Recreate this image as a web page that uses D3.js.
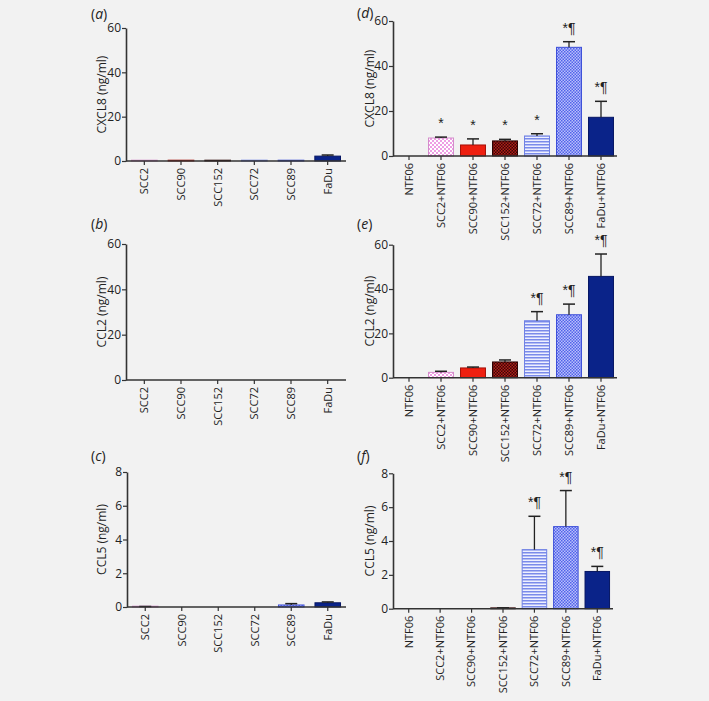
<!DOCTYPE html>
<html><head><meta charset="utf-8">
<script src="https://cdn.jsdelivr.net/npm/d3@7/dist/d3.min.js"></script>
<style>
html,body{margin:0;padding:0;background:#f2f2f2;}
svg{display:block;}
text{font-family:"Open Sans",sans-serif;fill:#222;}
</style></head>
<body>
<script>
// ---- data ----
const monoCats = ["SCC2","SCC90","SCC152","SCC72","SCC89","FaDu"];
const coCats = ["NTF06","SCC2+NTF06","SCC90+NTF06","SCC152+NTF06","SCC72+NTF06","SCC89+NTF06","FaDu+NTF06"];

const cxcl8Mono = [0.05, 0.2, 0.05, 0.2, 0.05, 2.2];
const cxcl8MonoErr = [0, 0, 0, 0, 0, 0.5];
const ccl2Mono = [0, 0, 0, 0, 0, 0];
const ccl2MonoErr = [0, 0, 0, 0, 0, 0];
const ccl5Mono = [0.02, 0, 0, 0, 0.12, 0.25];
const ccl5MonoErr = [0.01, 0, 0, 0, 0.08, 0.05];

const cxcl8Co = [0, 8.0, 4.9, 6.7, 8.9, 48.3, 17.2];
const cxcl8CoErr = [0, 0.4, 2.7, 0.7, 1.0, 2.5, 7.1];
const cxcl8Sig = ["", "*", "*", "*", "*", "*¶", "*¶"];
const ccl2Co = [0, 2.4, 4.4, 7.1, 25.7, 28.4, 45.7];
const ccl2CoErr = [0, 0.5, 0.4, 0.9, 4.1, 4.8, 10.1];
const ccl2Sig = ["", "", "", "", "*¶", "*¶", "*¶"];
const ccl5Co = [0, 0, 0, 0.03, 3.49, 4.85, 2.2];
const ccl5CoErr = [0, 0, 0, 0.02, 1.97, 2.13, 0.3];
const ccl5Sig = ["", "", "", "", "*¶", "*¶", "*¶"];

const ticks60 = [0, 20, 40, 60];
const ticks8 = [0, 2, 4, 6, 8];

// ---- drawing ----
const svg = d3.select("body").append("svg").attr("width", 709).attr("height", 701);
const defs = svg.append("defs");

function checkPattern(id, bg, fg, s) {
  const p = defs.append("pattern").attr("id", id).attr("patternUnits", "userSpaceOnUse")
    .attr("width", 2 * s).attr("height", 2 * s);
  p.append("rect").attr("width", 2 * s).attr("height", 2 * s).attr("fill", bg);
  p.append("rect").attr("width", s).attr("height", s).attr("fill", fg);
  p.append("rect").attr("x", s).attr("y", s).attr("width", s).attr("height", s).attr("fill", fg);
}
checkPattern("pinkchk", "#ffffff", "#ee9ee4", 2);
checkPattern("marchk", "#3e0505", "#b0201a", 1.5);
checkPattern("bluechk", "#b8c0fb", "#5262ea", 1.5);
(function () {
  const p = defs.append("pattern").attr("id", "stripe").attr("patternUnits", "userSpaceOnUse")
    .attr("width", 4).attr("height", 3);
  p.append("rect").attr("width", 4).attr("height", 3).attr("fill", "#eef0ff");
  p.append("rect").attr("y", 0).attr("width", 4).attr("height", 1.5).attr("fill", "#7a8bea");
})();

const styles = [
  {fill: "url(#pinkchk)", stroke: "#d48ccb"},
  {fill: "#ee1f10", stroke: "#a51008"},
  {fill: "url(#marchk)", stroke: "#2a0303"},
  {fill: "url(#stripe)", stroke: "#6f80e4"},
  {fill: "url(#bluechk)", stroke: "#3d4fd8"},
  {fill: "#0a2389", stroke: "#061663"}
];

function panel(cfg) {
  const g = svg.append("g");
  const x = d3.scaleBand().domain(cfg.cats).range([cfg.x0, cfg.x1]).paddingInner(cfg.pad).paddingOuter(cfg.pad / 2);
  const y = d3.scaleLinear().domain([0, cfg.max]).range([cfg.yb, cfg.yt]);

  cfg.vals.forEach((v, i) => {
    const st = styles[cfg.styleIdx[i]];
    if (!st || v <= 0) return;
    const h = Math.max(y(0) - y(v), 0.8);
    g.append("rect").attr("x", x(cfg.cats[i])).attr("y", y(0) - h)
      .attr("width", x.bandwidth()).attr("height", h)
      .attr("fill", st.fill).attr("stroke", st.stroke).attr("stroke-width", 1);
  });
  cfg.vals.forEach((v, i) => {
    const e = cfg.errs[i];
    if (!e) return;
    const cx = x(cfg.cats[i]) + x.bandwidth() / 2;
    const yt = y(v + e);
    g.append("line").attr("x1", cx).attr("x2", cx).attr("y1", y(v)).attr("y2", yt)
      .attr("stroke", "#222").attr("stroke-width", 1.3);
    g.append("line").attr("x1", cx - 6).attr("x2", cx + 6).attr("y1", yt).attr("y2", yt)
      .attr("stroke", "#222").attr("stroke-width", 1.5);
  });
  if (cfg.sig) cfg.sig.forEach((s, i) => {
    if (!s) return;
    const cx = x(cfg.cats[i]) + x.bandwidth() / 2;
    g.append("text").attr("x", cx).attr("y", y(cfg.vals[i] + cfg.errs[i]) - 9)
      .attr("text-anchor", "middle").attr("font-size", 14)
      .style("font-family", "'Liberation Sans', 'DejaVu Sans', sans-serif").text(s);
  });

  const ya = g.append("g").attr("transform", `translate(${cfg.x0},0)`)
    .call(d3.axisLeft(y).tickValues(cfg.ticks).tickSize(4).tickPadding(1).tickSizeOuter(0));
  const xa = g.append("g").attr("transform", `translate(0,${cfg.yb})`)
    .call(d3.axisBottom(x).tickSize(4).tickSizeOuter(0).tickPadding(3));
  [ya, xa].forEach(a => {
    a.select(".domain").attr("stroke", "#333").attr("stroke-width", 1.6);
    a.selectAll(".tick line").attr("stroke", "#333").attr("stroke-width", 1.2);
    a.selectAll("text").attr("font-family", "Open Sans").attr("fill", "#222");
  });
  ya.selectAll("text").attr("font-size", 12);
  xa.select(".domain").attr("d", `M${cfg.x0},0H${cfg.x1}`);
  xa.selectAll(".tick text").attr("font-size", 11).attr("transform", "rotate(-90)")
    .attr("text-anchor", "end").attr("x", -7).attr("y", 0).attr("dy", "0.35em");

  g.append("text").attr("transform", `translate(${cfg.labX},${(cfg.yt + cfg.yb) / 2}) rotate(-90)`)
    .attr("text-anchor", "middle").attr("font-size", 12).text(cfg.ylabel);
  const t = g.append("text").attr("x", cfg.lx).attr("y", cfg.ly).attr("font-size", 14);
  t.append("tspan").text("(");
  t.append("tspan").attr("font-style", "italic").text(cfg.letter);
  t.append("tspan").text(")");
}

const monoStyle = [0, 1, 2, 3, 4, 5];
const coStyle = [-1, 0, 1, 2, 3, 4, 5];

panel({cats: monoCats, vals: cxcl8Mono, errs: cxcl8MonoErr, styleIdx: monoStyle, max: 60, ticks: ticks60,
  x0: 126, x1: 346, pad: 0.3, yt: 28, yb: 161, labX: 106, ylabel: "CXCL8 (ng/ml)", letter: "a", lx: 91, ly: 19});
panel({cats: monoCats, vals: ccl2Mono, errs: ccl2MonoErr, styleIdx: monoStyle, max: 60, ticks: ticks60,
  x0: 126, x1: 346, pad: 0.3, yt: 244, yb: 380, labX: 106, ylabel: "CCL2 (ng/ml)", letter: "b", lx: 91, ly: 229});
panel({cats: monoCats, vals: ccl5Mono, errs: ccl5MonoErr, styleIdx: monoStyle, max: 8, ticks: ticks8,
  x0: 127, x1: 346, pad: 0.3, yt: 472, yb: 607, labX: 106, ylabel: "CCL5 (ng/ml)", letter: "c", lx: 91, ly: 461});

panel({cats: coCats, vals: cxcl8Co, errs: cxcl8CoErr, sig: cxcl8Sig, styleIdx: coStyle, max: 60, ticks: ticks60,
  x0: 393, x1: 617, pad: 0.22, yt: 21, yb: 156, labX: 374, ylabel: "CXCL8 (ng/ml)", letter: "d", lx: 357, ly: 18});
panel({cats: coCats, vals: ccl2Co, errs: ccl2CoErr, sig: ccl2Sig, styleIdx: coStyle, max: 60, ticks: ticks60,
  x0: 393, x1: 617, pad: 0.22, yt: 244.7, yb: 377.7, labX: 374, ylabel: "CCL2 (ng/ml)", letter: "e", lx: 357, ly: 229});
panel({cats: coCats, vals: ccl5Co, errs: ccl5CoErr, sig: ccl5Sig, styleIdx: coStyle, max: 8, ticks: ticks8,
  x0: 393, x1: 613, pad: 0.22, yt: 473.3, yb: 608.7, labX: 374, ylabel: "CCL5 (ng/ml)", letter: "f", lx: 357, ly: 461});
</script>
</body></html>
